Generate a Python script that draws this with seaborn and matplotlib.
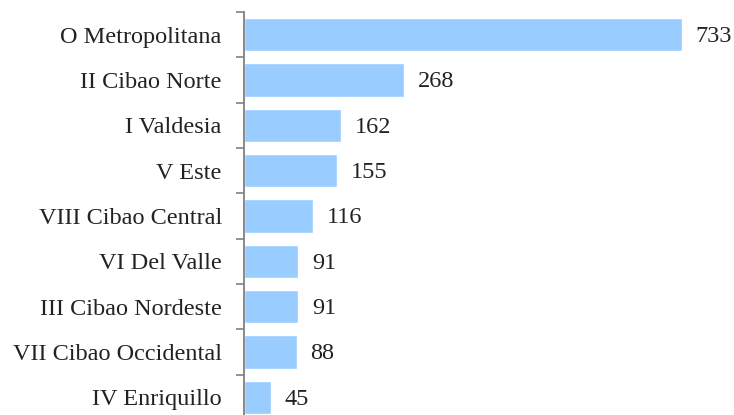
import matplotlib
matplotlib.use("Agg")
import matplotlib.pyplot as plt
import seaborn as sns
import pandas as pd
import numpy as np

regions = ["O Metropolitana", "II Cibao Norte", "I Valdesia", "V Este",
           "VIII Cibao Central", "VI Del Valle", "III Cibao Nordeste",
           "VII Cibao Occidental", "IV Enriquillo"]
values = [733, 268, 162, 155, 116, 91, 91, 88, 45]

df = pd.DataFrame({"region": regions, "value": values})

sns.set_style("white")
plt.rcParams["font.family"] = ["Liberation Serif", "DejaVu Serif"]

fig = plt.figure(figsize=(7.34, 4.15), dpi=100)
W, H = 734, 415
ax = fig.add_axes([244 / W, 1 - 420 / H, (734 - 244) / W, (420 - 12) / H])

sns.barplot(data=df, x="value", y="region", orient="h", color="#99CCFF",
            saturation=1, width=0.73, ax=ax)

ax.set_xlim(0, 490 * 733 / 438)
ax.set_ylim(len(regions) - 0.5, -0.5)
ax.set_xlabel("")
ax.set_ylabel("")
ax.set_xticks([])

for i, v in enumerate(values):
    ax.text(v + 23, i + 0.04, str(v), va="center", ha="left", fontsize=17.5, color="#222222")

ax.tick_params(axis="y", which="major", left=False, length=0, pad=16, labelsize=17.5, labelcolor="#222222")
ax.set_yticks(np.arange(-0.5, len(regions) + 0.5, 1), minor=True)
ax.tick_params(axis="y", which="minor", left=True, length=6, width=1.2, color="#808080")

for s in ["top", "right", "bottom"]:
    ax.spines[s].set_visible(False)
ax.spines["left"].set_color("#808080")
ax.spines["left"].set_linewidth(1.3)

fig.savefig("out.png", dpi=100)
